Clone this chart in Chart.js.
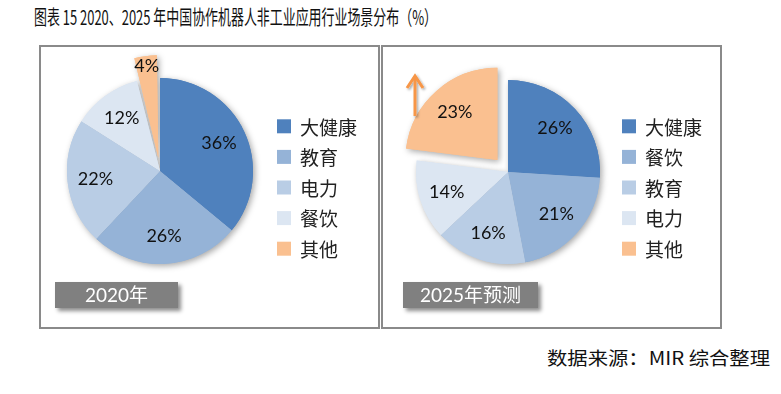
<!DOCTYPE html>
<html>
<head>
<meta charset="utf-8">
<script src="https://cdn.jsdelivr.net/npm/chart.js@4.4.1/dist/chart.umd.min.js"></script>
<style>
  html, body { margin:0; padding:0; background:#fff; }
  body { width:781px; height:394px; position:relative; overflow:hidden; }
  .abs { position:absolute; }
  #title { left:34px; top:5px; font-family:"Noto Sans CJK SC", sans-serif; font-size:20px; line-height:24px; color:#111; white-space:nowrap; transform-origin:0 50%; }
  #source { left:547px; top:345px; font-family:"Noto Sans CJK SC", sans-serif; font-size:18px; line-height:24px; color:#111; white-space:nowrap; transform-origin:0 50%; }
  .panel { position:absolute; top:45px; height:284px; width:341px; box-sizing:border-box; border:2px solid #8a8a8a; }
  .tag { position:absolute; top:282px; height:26px; background:#808080; color:#fff; font-family:Lato, "Noto Sans CJK SC", sans-serif; font-size:19px; line-height:26px; text-align:center; box-shadow:3px 3px 4px rgba(0,0,0,0.45); }
  canvas { position:absolute; }
</style>
</head>
<body>
<script>
// ---- data ----
const titleText = '图表 15 2020、2025 年中国协作机器人非工业应用行业场景分布（%）';
const sourceText = '数据来源：MIR 综合整理';
const categories2020 = ['大健康', '教育', '电力', '餐饮', '其他'];
const values2020 = [36, 26, 22, 12, 4];
const categories2025 = ['大健康', '餐饮', '教育', '电力', '其他'];
const values2025 = [26, 21, 16, 14, 23];
const panelLabels = ['2020年', '2025年预测'];
</script>

<div id="title" class="abs"></div>
<div class="panel" style="left:39px"></div>
<div class="panel" style="left:381px"></div>
<canvas id="c1" width="337" height="280" style="left:41px;top:47px;width:337px;height:280px"></canvas>
<canvas id="c2" width="337" height="280" style="left:383px;top:47px;width:337px;height:280px"></canvas>
<div id="tag1" class="tag" style="left:55px;width:123px"></div>
<div id="tag2" class="tag" style="left:403px;width:135px"></div>
<svg class="abs" style="left:395px;top:65px" width="40" height="60" viewBox="0 0 40 60">
  <defs><filter id="sh" x="-50%" y="-50%" width="200%" height="200%"><feDropShadow dx="1.5" dy="1.5" stdDeviation="1.2" flood-color="#000" flood-opacity="0.35"/></filter></defs>
  <g filter="url(#sh)" stroke="#F79646" stroke-width="3" fill="none" stroke-linecap="butt">
    <line x1="20" y1="51" x2="20" y2="11"/>
    <polyline points="12,23 20,11 28,23"/>
  </g>
</svg>
<div id="source" class="abs"></div>

<script>
function fitText(el, text, targetW) {
  el.textContent = text;
  const w = el.getBoundingClientRect().width;
  el.style.transform = 'scaleX(' + (targetW / w) + ')';
}
fitText(document.getElementById('title'), titleText, 403);
fitText(document.getElementById('source'), sourceText, 223);
document.getElementById('tag1').textContent = panelLabels[0];
document.getElementById('tag2').textContent = panelLabels[1];

const sliceColors = ['#4F81BD', '#95B3D7', '#B9CDE5', '#DCE6F2', '#FAC090'];

const shadowPlugin = {
  id: 'pieShadow',
  beforeDatasetsDraw(chart) {
    const ctx = chart.ctx;
    const meta = chart.getDatasetMeta(0);
    ctx.save();
    ctx.shadowColor = 'rgba(0,0,0,0.35)';
    ctx.shadowBlur = 6;
    ctx.shadowOffsetX = 2;
    ctx.shadowOffsetY = 2;
    meta.data.forEach(a => a.draw(ctx));
    ctx.restore();
  }
};

const labelPlugin = {
  id: 'sliceLabels',
  afterDatasetsDraw(chart) {
    const ctx = chart.ctx;
    const meta = chart.getDatasetMeta(0);
    const vals = chart.data.datasets[0].data;
    ctx.save();
    ctx.font = '18px Lato, sans-serif';
    ctx.fillStyle = '#111';
    ctx.textAlign = 'center';
    ctx.textBaseline = 'middle';
    meta.data.forEach((a, i) => {
      const p = a.getProps(['x', 'y', 'startAngle', 'endAngle', 'outerRadius'], true);
      const mid = (p.startAngle + p.endAngle) / 2;
      const shift = (a.options.offset || 0) / 4;
      const cx = p.x + Math.cos(mid) * shift;
      const cy = p.y + Math.sin(mid) * shift;
      const f = vals[i] < 5 ? 1.0 : 0.70;
      ctx.fillText(vals[i] + '%', cx + Math.cos(mid) * p.outerRadius * f, cy + Math.sin(mid) * p.outerRadius * f);
    });
    ctx.restore();
  }
};

const sideLegendPlugin = {
  id: 'sideLegend',
  afterDraw(chart, args, opts) {
    const ctx = chart.ctx;
    const labels = chart.data.labels;
    const colors = chart.data.datasets[0].backgroundColor;
    ctx.save();
    ctx.font = '19px "Noto Sans CJK SC", sans-serif';
    ctx.textBaseline = 'middle';
    ctx.textAlign = 'left';
    labels.forEach((lab, i) => {
      const y = opts.y + i * opts.pitch;
      ctx.fillStyle = colors[i];
      ctx.fillRect(opts.x, y - opts.box / 2, opts.box, opts.box);
      ctx.fillStyle = '#222';
      ctx.fillText(lab, opts.x + opts.box + opts.gap, y + 1);
    });
    ctx.restore();
  }
};

function makePie(id, labels, values, explode, padding, legendX) {
  const last = values.length - 1;
  return new Chart(document.getElementById(id), {
    type: 'pie',
    data: {
      labels: labels,
      datasets: [{
        data: values,
        backgroundColor: sliceColors,
        borderWidth: 0,
        hoverOffset: 0,
        offset: values.map((v, i) => i === last ? explode : 0)
      }]
    },
    options: {
      responsive: false,
      animation: false,
      events: [],
      layout: { padding: padding },
      plugins: {
        legend: { display: false },
        tooltip: { enabled: false },
        sideLegend: { x: legendX, y: 79.3, pitch: 30.6, box: 14, gap: 9 }
      }
    },
    plugins: [shadowPlugin, labelPlugin, sideLegendPlugin]
  });
}

makePie('c1', categories2020, values2020, 52, { left: 0, right: 99, top: 5, bottom: 37 }, 236);
makePie('c2', categories2025, values2025, 64, { left: 1, right: 88, top: 1, bottom: 31 }, 239);
</script>
</body>
</html>
